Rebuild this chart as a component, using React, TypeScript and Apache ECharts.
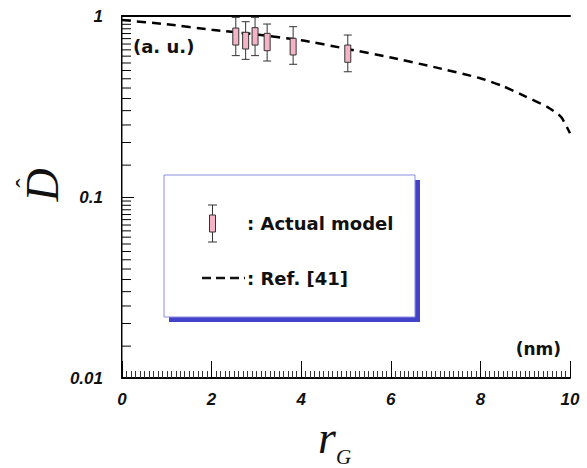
import React, { useEffect, useRef } from "react";
import * as echarts from "echarts";

// Reference curve (Ref. [41])
const refX = [0, 1, 2, 3, 4, 5, 6, 7, 8, 8.5, 9, 9.5, 9.8, 10];
const refY = [0.95, 0.9, 0.84, 0.79, 0.735, 0.66, 0.59, 0.52, 0.453, 0.41, 0.36, 0.314, 0.277, 0.225];

// Actual model points: x, whisker low, box low, box high, whisker high
const modelX = [2.54, 2.76, 2.97, 3.24, 3.82, 5.04];
const whiskerLow = [0.604, 0.576, 0.604, 0.564, 0.541, 0.492];
const boxLow = [0.691, 0.657, 0.691, 0.643, 0.609, 0.555];
const boxHigh = [0.858, 0.813, 0.862, 0.802, 0.753, 0.691];
const whiskerHigh = [0.983, 0.93, 0.983, 0.903, 0.873, 0.785];

// Minor tick values of the log y axis
const yMinorTicks = [
  0.015, 0.02, 0.025, 0.03, 0.035, 0.04, 0.045, 0.05, 0.055, 0.06, 0.065, 0.07, 0.075, 0.08, 0.085, 0.09, 0.095,
  0.15, 0.2, 0.25, 0.3, 0.35, 0.4, 0.45, 0.5, 0.55, 0.6, 0.65, 0.7, 0.75, 0.8, 0.85, 0.9, 0.95,
];

const legendModelLabel = ": Actual model";
const legendRefLabel = ": Ref. [41]";
const yUnitLabel = "(a. u.)";
const xUnitLabel = "(nm)";

export default function App() {
  const ref = useRef<HTMLDivElement>(null);
  useEffect(() => {
    if (!ref.current) return;
    const chart = echarts.init(ref.current, null, { renderer: "svg" });
    const tickFont = {
      fontFamily: "Liberation Sans",
      fontStyle: "italic" as const,
      fontWeight: "bold" as const,
      fontSize: 17,
      color: "#111",
    };
    const boldFont = "DejaVu Sans";
    const option: any = {
      animation: false,
      backgroundColor: "#fff",
      grid: { left: 122, top: 16, right: 17, bottom: 90, containLabel: false },
      xAxis: [
        {
          type: "value",
          min: 0,
          max: 10,
          interval: 2,
          axisLine: { show: true, lineStyle: { color: "#000", width: 2 } },
          axisTick: { show: true, inside: true, length: 17, lineStyle: { color: "#000", width: 1 } },
          minorTick: { show: true, splitNumber: 20, length: 7, lineStyle: { color: "#333", width: 1 } },
          axisLabel: { ...tickFont, margin: 13 },
          splitLine: { show: false },
          minorSplitLine: { show: false },
        },
        {
          type: "value",
          position: "top",
          min: 0,
          max: 10,
          axisLine: { show: true, lineStyle: { color: "#000", width: 2 } },
          axisTick: { show: false },
          axisLabel: { show: false },
          splitLine: { show: false },
        },
      ],
      yAxis: [
        {
          type: "log",
          logBase: 10,
          min: 0.01,
          max: 1,
          axisLine: { show: true, lineStyle: { color: "#000", width: 2 } },
          axisTick: { show: true, inside: true, length: 12, lineStyle: { color: "#000", width: 1 } },
          axisLabel: {
            ...tickFont,
            margin: 19,
            formatter: (v: number) => String(Number(v.toPrecision(2))),
          },
          splitLine: { show: false },
        },
        {
          type: "log",
          logBase: 10,
          min: 0.01,
          max: 1,
          position: "right",
          axisLine: { show: true, lineStyle: { color: "#888", width: 1 } },
          axisTick: { show: false },
          axisLabel: { show: false },
          splitLine: { show: false },
        },
      ],
      series: [
        {
          type: "custom",
          name: "yMinorTicks",
          xAxisIndex: 0,
          yAxisIndex: 0,
          silent: true,
          clip: false,
          data: yMinorTicks.map((v) => [0, v]),
          renderItem: (params: any, api: any) => {
            const p = api.coord([0, api.value(1)]);
            const left = params.coordSys.x;
            return {
              type: "line",
              shape: { x1: left, y1: p[1], x2: left + 9, y2: p[1] },
              style: { stroke: "#000", lineWidth: 1 },
            };
          },
        },
        {
          type: "line",
          name: "Ref. [41]",
          xAxisIndex: 0,
          yAxisIndex: 0,
          data: refX.map((x, i) => [x, refY[i]]),
          showSymbol: false,
          smooth: 0.2,
          lineStyle: { color: "#000", width: 2.5, type: [9, 6] },
          z: 3,
        },
        {
          type: "custom",
          name: "Actual model",
          xAxisIndex: 0,
          yAxisIndex: 0,
          z: 4,
          data: modelX.map((x, i) => [x, whiskerLow[i], boxLow[i], boxHigh[i], whiskerHigh[i]]),
          encode: { x: 0, y: [1, 2, 3, 4] },
          renderItem: (params: any, api: any) => {
            const x = api.value(0);
            const pLo = api.coord([x, api.value(1)]);
            const pbLo = api.coord([x, api.value(2)]);
            const pbHi = api.coord([x, api.value(3)]);
            const pHi = api.coord([x, api.value(4)]);
            const cx = pLo[0];
            const cap = 4;
            const bw = 3;
            const stroke = { stroke: "#333", lineWidth: 1 };
            return {
              type: "group",
              children: [
                { type: "line", shape: { x1: cx, y1: pHi[1], x2: cx, y2: pLo[1] }, style: stroke },
                { type: "line", shape: { x1: cx - cap, y1: pHi[1], x2: cx + cap, y2: pHi[1] }, style: stroke },
                { type: "line", shape: { x1: cx - cap, y1: pLo[1], x2: cx + cap, y2: pLo[1] }, style: stroke },
                {
                  type: "rect",
                  shape: { x: cx - bw, y: pbHi[1], width: bw * 2, height: pbLo[1] - pbHi[1] },
                  style: { fill: "#f4b4c6", stroke: "#333", lineWidth: 1 },
                },
              ],
            };
          },
        },
      ],
      graphic: [
        {
          type: "text",
          left: 133,
          top: 37,
          style: { text: yUnitLabel, font: `bold 18px "${boldFont}"`, fill: "#111" },
        },
        {
          type: "text",
          right: 26,
          top: 340,
          style: { text: xUnitLabel, font: `bold 17px "${boldFont}"`, fill: "#111" },
        },
        // legend shadow and box
        { type: "rect", shape: { x: 169, y: 180, width: 251, height: 142 }, style: { fill: "#4343c9" }, z: 10 },
        {
          type: "rect",
          shape: { x: 164, y: 175, width: 251, height: 142 },
          style: { fill: "#fff", stroke: "#8d8de0", lineWidth: 1 },
          z: 11,
        },
        // legend error bar icon
        { type: "line", shape: { x1: 212.5, y1: 205, x2: 212.5, y2: 242 }, style: { stroke: "#333", lineWidth: 1 }, z: 12 },
        { type: "line", shape: { x1: 208, y1: 205, x2: 217, y2: 205 }, style: { stroke: "#333", lineWidth: 1 }, z: 12 },
        { type: "line", shape: { x1: 208, y1: 242, x2: 217, y2: 242 }, style: { stroke: "#333", lineWidth: 1 }, z: 12 },
        {
          type: "rect",
          shape: { x: 209.5, y: 215, width: 6, height: 17 },
          style: { fill: "#f4b4c6", stroke: "#333", lineWidth: 1 },
          z: 12,
        },
        {
          type: "text",
          x: 247,
          y: 223,
          style: { text: legendModelLabel, font: `bold 18px "${boldFont}"`, fill: "#111", verticalAlign: "middle" },
          z: 12,
        },
        {
          type: "line",
          shape: { x1: 202, y1: 278, x2: 245, y2: 278 },
          style: { stroke: "#111", lineWidth: 2.5, lineDash: [9, 5] },
          z: 12,
        },
        {
          type: "text",
          x: 247,
          y: 278,
          style: { text: legendRefLabel, font: `bold 18px "${boldFont}"`, fill: "#111", verticalAlign: "middle" },
          z: 12,
        },
        // axis titles
        {
          type: "text",
          x: 318,
          y: 437,
          style: {
            text: "r",
            font: 'italic 46px "Liberation Serif"',
            fill: "#111",
            verticalAlign: "middle",
          },
        },
        {
          type: "text",
          x: 336,
          y: 457,
          style: {
            text: "G",
            font: 'italic 21px "Liberation Serif"',
            fill: "#111",
            verticalAlign: "middle",
          },
        },
        {
          type: "group",
          x: 42,
          y: 185,
          rotation: Math.PI / 2,
          children: [
            {
              type: "text",
              x: 0,
              y: 0,
              style: {
                text: "D",
                font: 'italic 46px "Liberation Serif"',
                fill: "#111",
                align: "center",
                verticalAlign: "middle",
              },
            },
            {
              type: "text",
              x: 2,
              y: -17,
              style: {
                text: "ˆ",
                font: '28px "Liberation Serif"',
                fill: "#111",
                align: "center",
                verticalAlign: "middle",
              },
            },
          ],
        },
      ],
    };
    chart.setOption(option);
    return () => chart.dispose();
  }, []);
  return <div ref={ref} style={{ position: "fixed", left: 0, top: 0, width: 587, height: 468 }} />;
}
